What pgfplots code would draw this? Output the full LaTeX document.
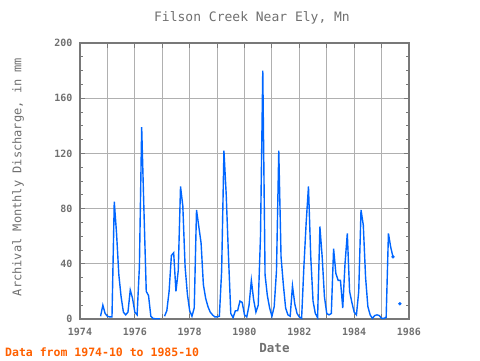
\documentclass[border=0pt]{standalone}
\usepackage{fontspec}
\setmonofont{DejaVu Sans Mono}
\usepackage{pgfplots}
\pgfplotsset{compat=1.18}
\usepackage{pgfplotstable}
\definecolor{txt}{RGB}{112,112,112}
\definecolor{framec}{RGB}{120,120,120}
\definecolor{gridc}{RGB}{176,176,176}
\definecolor{linec}{RGB}{0,102,255}
\definecolor{note}{RGB}{255,96,0}
\pgfplotstableread{
m v
0 2
1 10
2 4
3 2
4 1.5
5 1.5
6 85
7 62
8 32
9 16
10 5
11 3
12 5
13 21
14 15
15 5
16 3
17 38
18 139
19 78
20 20
21 17
22 2
23 0.3
24 0.2
25 0.2
26 0.2
27 nan
28 2
29 6
30 20
31 46
32 48
33 20
34 35
35 96
36 82
37 38
38 18
39 6
40 2
41 8
42 79
43 67
44 55
45 25
46 15
47 9
48 5
49 3
50 1.5
51 1.5
52 2
53 35
54 122
55 90
56 45
57 4
58 1
59 6
60 6
61 13
62 12
63 3
64 1.5
65 10
66 28
67 14
68 5
69 10
70 60
71 180
72 32
73 17
74 8
75 2
76 9
77 35
78 122
79 45
80 25
81 8
82 3
83 2
84 24
85 11
86 4
87 1.5
88 0.5
89 38
90 70
91 96
92 45
93 13
94 4
95 1
96 67
97 45
98 16
99 4
100 3
101 4
102 51
103 33
104 28
105 28
106 8
107 40
108 62
109 20
110 12
111 5
112 3
113 20
114 79
115 68
116 30
117 9
118 3
119 0.5
120 2.5
121 3
122 2.5
123 0.5
124 0.5
125 1
126 62
127 52
128 45
129 nan
130 nan
131 11
}\flow
\pgfplotstableread{
m v
128 45
131 11
}\dots
\begin{document}
\begin{tikzpicture}
\begin{axis}[
  scale only axis, width=329pt, height=276pt,
  at={(0pt,0pt)}, anchor=south west,
  xmin=1974, xmax=1986, ymin=0, ymax=200,
  xtick={1974,...,1986},
  xticklabels={1974,,1976,,1978,,1980,,1982,,1984,,1986},
  ytick={0,40,...,200},
  yticklabels={0,40,80,120,160,200},
  minor x tick num=2, minor y tick num=3,
  tick align=inside,
  xtick pos=both, ytick pos=both,
  grid=major,
  major grid style={gridc, line width=0.9pt},
  axis line style={framec, line width=1.6pt},
  every tick/.style={framec, line width=1pt},
  major tick length=5pt, minor tick length=3pt,
  ticklabel style={font=\ttfamily\bfseries\fontsize{10}{12}\selectfont, text=txt},
  xticklabel style={yshift=-6pt},
  yticklabel style={xshift=-4pt},
  unbounded coords=jump,
]
\addplot[linec, line width=1.4pt, no marks] table[x expr=1974.75+\thisrow{m}/12, y=v] {\flow};
\addplot[linec, only marks, mark=*, mark size=1.5pt] table[x expr=1974.75+\thisrow{m}/12, y=v] {\dots};
\end{axis}
\node[font=\ttfamily\fontsize{13}{15}\selectfont, text=txt] at (172pt,301pt) {Filson Creek Near Ely, Mn};
\node[font=\ttfamily\bfseries\fontsize{12.5}{15}\selectfont, text=txt] at (194.5pt,-29pt) {Date};
\node[font=\ttfamily\bfseries\fontsize{11.5}{14}\selectfont, text=note, anchor=west, inner sep=0pt] at (-75pt,-33pt) {Data from 1974-10 to 1985-10};
\node[font=\ttfamily\fontsize{12}{14}\selectfont, text=txt, rotate=90] at (-62pt,142pt) {Archival Monthly Discharge, in mm};
\pgfresetboundingbox
\path[use as bounding box] (-80pt,-41pt) rectangle (400pt,319pt);
\end{tikzpicture}
\end{document}
